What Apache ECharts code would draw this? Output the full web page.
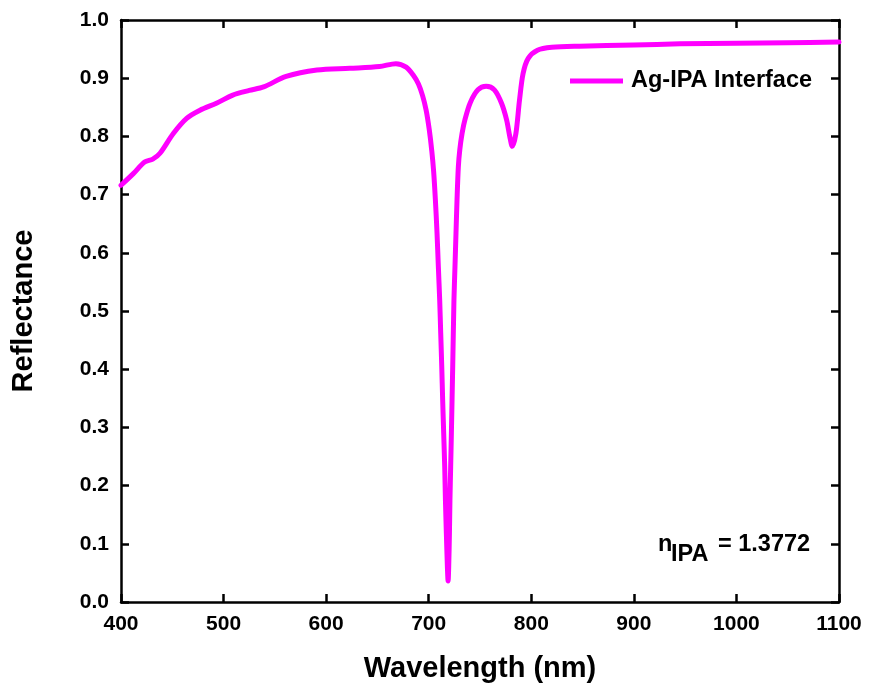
<!DOCTYPE html>
<html>
<head>
<meta charset="utf-8">
<style>
  html, body { margin: 0; padding: 0; background: #fff; }
  #chart { width: 869px; height: 693px; }
</style>
<script src="https://cdn.jsdelivr.net/npm/echarts@6/dist/echarts.min.js"></script>
</head>
<body>
<div id="chart"></div>
<script>
// Reflectance spectrum of the Ag / isopropanol interface
const wavelengths = [
  400, 412, 423, 431, 438, 451, 464, 477, 493, 509, 525, 539, 561, 591, 623, 652,
  668, 678, 685, 690, 694, 697.5, 700.5, 703, 704.8, 706.5, 708.1, 709.4, 710.7, 711.7,
  712.7, 713.6, 714.6, 715.6, 716.3, 717.2, 718.2, 718.9, 719.5, 720.2, 720.7,
  721.4, 722.1, 723.4, 724.6, 725.6, 726.6, 727.6, 728.9, 730.3, 732.5, 735.5,
  740.5, 748, 756, 764, 771, 776, 779, 781.5, 785, 788.5, 792, 797, 806, 820,
  847, 900, 945, 1000, 1050, 1100
];
const reflectance = [
  0.716, 0.736, 0.756, 0.761, 0.771, 0.805, 0.831, 0.845, 0.857, 0.871, 0.879, 0.885, 0.903, 0.914, 0.917, 0.920,
  0.925, 0.919, 0.905, 0.890, 0.870, 0.845, 0.812, 0.775, 0.740, 0.691, 0.634, 0.576, 0.519, 0.462,
  0.405, 0.347, 0.290, 0.232, 0.175, 0.118, 0.061, 0.036, 0.061, 0.118, 0.175,
  0.232, 0.290, 0.405, 0.519, 0.576, 0.634, 0.691, 0.748, 0.777, 0.805, 0.830,
  0.858, 0.880, 0.886, 0.880, 0.857, 0.828, 0.800, 0.783, 0.805, 0.862, 0.908, 0.934, 0.948, 0.953,
  0.955, 0.957, 0.959, 0.960, 0.961, 0.962
];
const xTicks = [400, 500, 600, 700, 800, 900, 1000, 1100];
const yTicks = [0.0, 0.1, 0.2, 0.3, 0.4, 0.5, 0.6, 0.7, 0.8, 0.9, 1.0];
const seriesName = 'Ag-IPA Interface';
const refractiveIndex = '1.3772';

const FONT = '"Liberation Sans", Arial, sans-serif';
const points = wavelengths.map((w, i) => [w, reflectance[i]]);

const axisLine = { show: true, onZero: false, lineStyle: { color: '#000', width: 2.5 } };
const axisTick = { show: true, inside: true, length: 8, lineStyle: { color: '#000', width: 2.5 } };

const xBase = {
  type: 'value',
  min: xTicks[0],
  max: xTicks[xTicks.length - 1],
  interval: xTicks[1] - xTicks[0],
  splitLine: { show: false },
  axisLine: axisLine,
  axisTick: axisTick
};
const yBase = {
  type: 'value',
  min: yTicks[0],
  max: yTicks[yTicks.length - 1],
  interval: 0.1,
  splitLine: { show: false },
  axisLine: axisLine,
  axisTick: axisTick
};

const labelFont = { fontFamily: FONT, fontWeight: 'bold', fontSize: 21, color: '#000' };
const titleFont = { fontFamily: FONT, fontWeight: 'bold', fontSize: 29, color: '#000' };
const noteFont = 'bold 23.5px "Liberation Sans", Arial, sans-serif';

const chart = echarts.init(document.getElementById('chart'), null, { renderer: 'canvas' });
chart.setOption({
  animation: false,
  backgroundColor: '#fff',
  grid: { left: 121, right: 30, top: 20, bottom: 91, containLabel: false },
  legend: {
    data: [seriesName],
    left: 565,
    top: 64,
    itemWidth: 53,
    itemHeight: 5,
    icon: 'rect',
    itemStyle: { color: '#FF00FF' },
    textStyle: { fontFamily: FONT, fontWeight: 'bold', fontSize: 23.5, color: '#000', padding: [0, 0, 0, 3] }
  },
  xAxis: [
    Object.assign({}, xBase, {
      position: 'bottom',
      name: 'Wavelength (nm)',
      nameLocation: 'middle',
      nameGap: 52,
      nameTextStyle: titleFont,
      axisLabel: Object.assign({ show: true, margin: 12, formatter: v => String(v) }, labelFont)
    }),
    Object.assign({}, xBase, { position: 'top', axisLabel: { show: false } })
  ],
  yAxis: [
    Object.assign({}, yBase, {
      position: 'left',
      name: 'Reflectance',
      nameLocation: 'middle',
      nameGap: 83,
      nameTextStyle: titleFont,
      axisLabel: Object.assign({ show: true, margin: 12, formatter: v => v.toFixed(1) }, labelFont)
    }),
    Object.assign({}, yBase, { position: 'right', axisLabel: { show: false } })
  ],
  series: [{
    name: seriesName,
    type: 'line',
    xAxisIndex: 0,
    yAxisIndex: 0,
    data: points,
    showSymbol: false,
    symbol: 'none',
    smooth: 0.3,
    lineStyle: { color: '#FF00FF', width: 5, join: 'round', cap: 'round' },
    itemStyle: { color: '#FF00FF' }
  }],
  graphic: [
    { type: 'text', x: 658, y: 545, style: { text: 'n', font: noteFont, fill: '#000', verticalAlign: 'middle' } },
    { type: 'text', x: 671, y: 555, style: { text: 'IPA', font: noteFont, fill: '#000', verticalAlign: 'middle' } },
    { type: 'text', x: 718, y: 545, style: { text: '= ' + refractiveIndex, font: noteFont, fill: '#000', verticalAlign: 'middle' } }
  ]
});
</script>
</body>
</html>
